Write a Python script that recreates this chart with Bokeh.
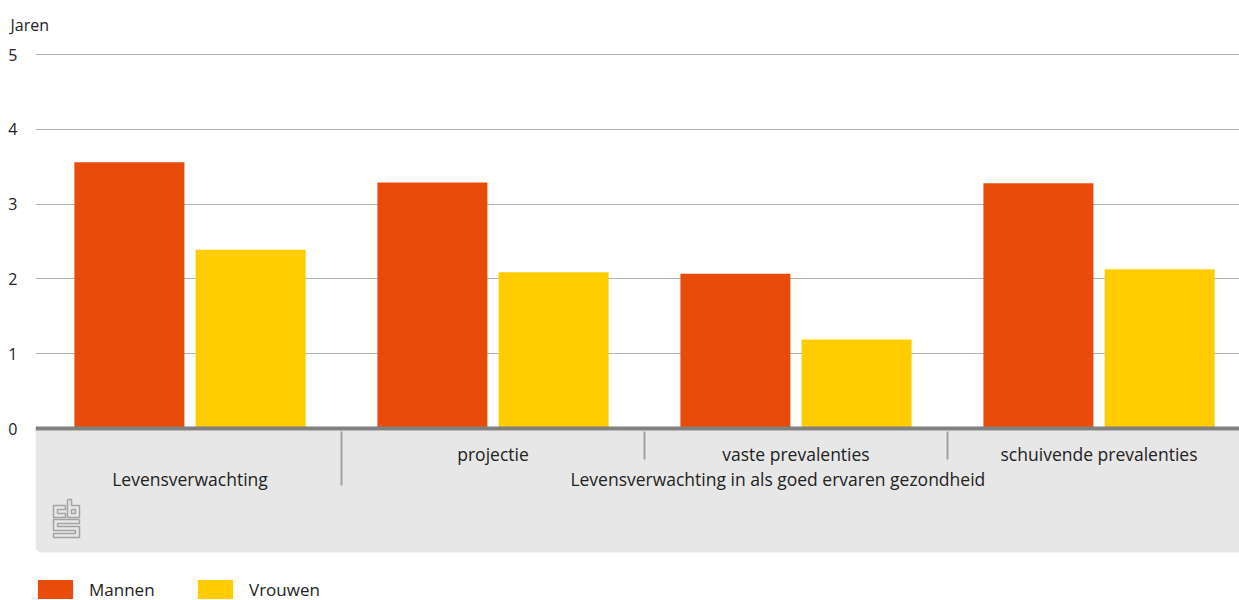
from bokeh.plotting import figure
from bokeh.models import (Range1d, FixedTicker, Span, BoxAnnotation,
                          Legend, LegendItem, ColumnDataSource)
from bokeh.core.properties import value
from bokeh.embed import file_html
from bokeh.resources import INLINE

# --- data -----------------------------------------------------------------
groups = ["Levensverwachting", "projectie", "vaste prevalenties",
          "schuivende prevalenties"]
parent_label = "Levensverwachting in als goed ervaren gezondheid"
mannen = [3.56, 3.29, 2.07, 3.28]
vrouwen = [2.39, 2.09, 1.19, 2.13]
y_ticks = [0, 1, 2, 3, 4, 5]
y_title = "Jaren"
series_names = ["Mannen", "Vrouwen"]

# --- styling --------------------------------------------------------------
FONT = "Open Sans"
TEXT = "#222222"
ORANGE = "#e94c0a"
YELLOW = "#ffcc00"
W, H = 1239, 600
LEFT = 35
TOP = 40                  # space above the plot area for the unit title
GROUP_PX = 303.0          # pixel width of one category group
ORIGIN_X = 38.0           # pixel where the first group starts
YEAR_PX = 74.8            # pixels per year
ZERO_Y = 428.0            # pixel row of y = 0


def px_x(px):
    return (px - ORIGIN_X) / GROUP_PX


def px_y(py):
    return (ZERO_Y - py) / YEAR_PX


p = figure(width=W, height=H, output_backend="svg", toolbar_location=None,
           x_range=Range1d(px_x(LEFT), px_x(W)),
           y_range=Range1d(px_y(H), px_y(TOP)),
           x_axis_location=None, min_border_left=LEFT, min_border_right=0,
           min_border_top=TOP, min_border_bottom=0,
           title=y_title, title_location="above")
p.outline_line_color = None
p.background_fill_color = "white"
p.border_fill_color = "white"

p.title.align = "left"
p.title.offset = -25
p.title.standoff = 9
p.title.text_font = FONT
p.title.text_font_size = "16px"
p.title.text_font_style = "normal"
p.title.text_color = TEXT

# y axis and grid
p.yaxis.ticker = FixedTicker(ticks=y_ticks)
p.yaxis.axis_line_color = None
p.yaxis.major_tick_line_color = None
p.yaxis.minor_tick_line_color = None
p.yaxis.major_label_standoff = 12
p.yaxis.major_label_text_font = FONT
p.yaxis.major_label_text_font_size = "16px"
p.yaxis.major_label_text_color = TEXT
p.xgrid.visible = False
p.ygrid.ticker = FixedTicker(ticks=y_ticks[1:])
p.ygrid.grid_line_color = "#b3b3b3"
p.ygrid.grid_line_width = 1

# grey category panel under the axis
panel = BoxAnnotation(top=px_y(430), bottom=px_y(552), fill_color="#e7e7e7",
                      fill_alpha=1, line_color=None, level="underlay",
                      border_radius=(0, 0, 0, 6))
p.add_layout(panel)

# bars
centers = [i + 0.5 for i in range(len(groups))]
src = ColumnDataSource(dict(
    xm=[c - 0.2 for c in centers], xv=[c + 0.2 for c in centers],
    m=mannen, v=vrouwen))
bar_w = 110 / GROUP_PX
rm = p.vbar(x="xm", top="m", width=bar_w, bottom=0, source=src,
            fill_color=ORANGE, line_color=None)
rv = p.vbar(x="xv", top="v", width=bar_w, bottom=0, source=src,
            fill_color=YELLOW, line_color=None)

# zero line
p.add_layout(Span(location=0, dimension="width", line_color="#808080",
                  line_width=4))

# separators between category groups
n = len(groups)
sep_x = list(range(1, n))
sep_bottom = [px_y(485)] + [px_y(459)] * (n - 2)
p.segment(x0=sep_x, y0=[px_y(431)] * len(sep_x), x1=sep_x, y1=sep_bottom,
          line_color="#a0a0a0", line_width=2)

# category labels
p.text(x=centers[1:], y=[0] * (n - 1), text=groups[1:], y_offset=25,
       text_align="center", text_baseline="middle",
       text_font=value(FONT), text_font_size="17.5px", text_color=TEXT)
p.text(x=[centers[0], 2.44], y=[0, 0], text=[groups[0], parent_label],
       y_offset=50, text_align="center", text_baseline="middle",
       text_font=value(FONT), text_font_size="17.5px", text_color=TEXT)

# cbs logo
logo_c = [(65, 505), (53, 505), (53, 517), (65, 517), (65, 513), (57, 513),
          (57, 509), (65, 509), (65, 505)]
logo_b = [(67, 499), (67, 517), (79, 517), (79, 505), (71, 505), (71, 499),
          (67, 499)]
logo_b_hole = [(71, 509), (75, 509), (75, 513), (71, 513), (71, 509)]
logo_s = [(79, 519), (53, 519), (53, 530), (75, 530), (75, 533), (53, 533),
          (53, 537), (79, 537), (79, 526), (57, 526), (57, 523), (79, 523),
          (79, 519)]
shapes = [logo_c, logo_b, logo_b_hole, logo_s]
p.multi_line(xs=[[px_x(a) for a, _ in s] for s in shapes],
             ys=[[px_y(b) for _, b in s] for s in shapes],
             line_color="#a3a3a3", line_width=1.5)

# legend
legend = Legend(items=[LegendItem(label=series_names[0], renderers=[rm]),
                       LegendItem(label=series_names[1], renderers=[rv])],
                orientation="horizontal", location=(-2, -1),
                glyph_width=44, glyph_height=24, label_width=104,
                label_height=24, label_standoff=12, spacing=0, padding=0,
                margin=0, border_line_color=None, background_fill_alpha=0,
                label_text_font=FONT, label_text_font_size="17px",
                label_text_color=TEXT, label_text_baseline="middle")
p.add_layout(legend)

open("out.html", "w").write(file_html(p, INLINE))
